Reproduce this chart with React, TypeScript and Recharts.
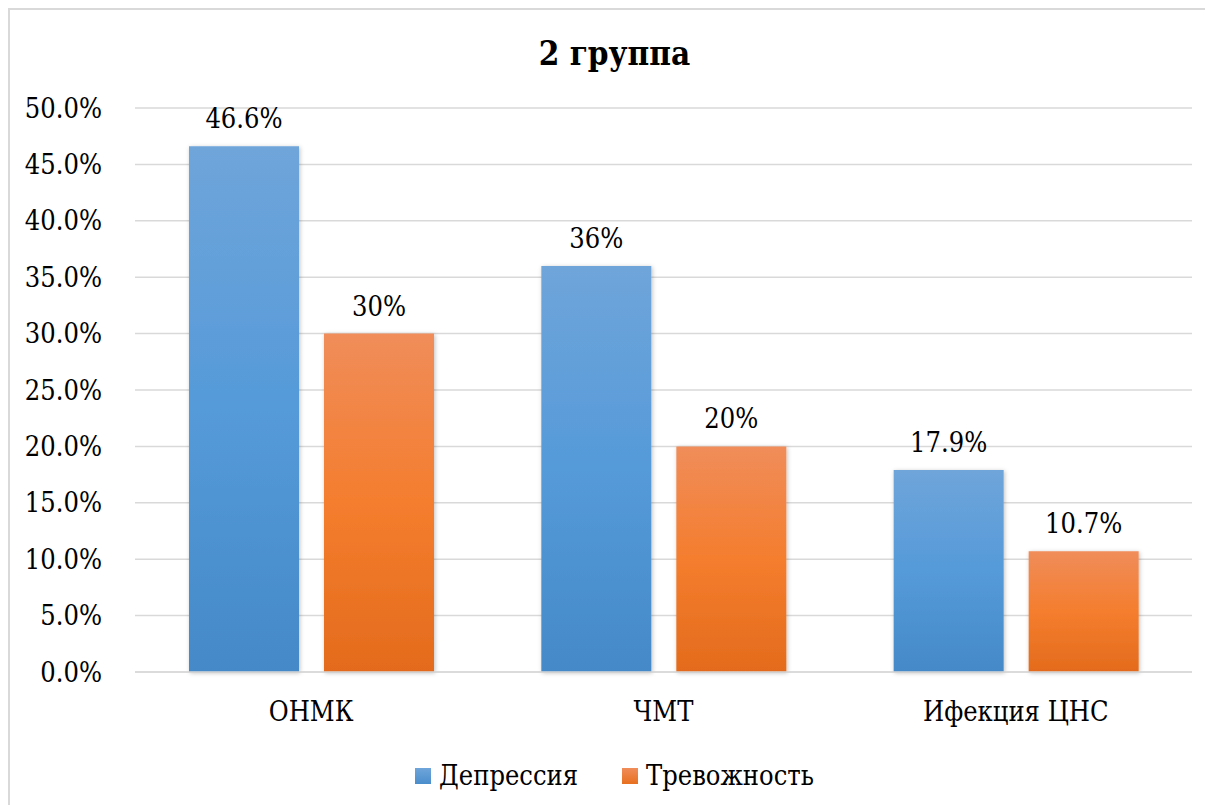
import React from "react";
import {
  BarChart,
  Bar,
  XAxis,
  YAxis,
  CartesianGrid,
  LabelList,
} from "recharts";

const categories = ["ОНМК", "ЧМТ", "Ифекция ЦНС"];
const depressionValues = [46.6, 36, 17.9];
const anxietyValues = [30, 20, 10.7];
const depressionLabels = ["46.6%", "36%", "17.9%"];
const anxietyLabels = ["30%", "20%", "10.7%"];
const yTicks = [0, 5, 10, 15, 20, 25, 30, 35, 40, 45, 50];
const seriesNames = ["Депрессия", "Тревожность"];
const title = "2 группа";

const data = categories.map((c, i) => ({
  name: c,
  dep: depressionValues[i],
  anx: anxietyValues[i],
  depLabel: depressionLabels[i],
  anxLabel: anxietyLabels[i],
}));

const FONT = "'DejaVu Serif Condensed', 'DejaVu Serif', serif";
const FS = 27;

const LegendBlock = () => (
  <div
    style={{
      position: "absolute",
      left: 0,
      top: 753,
      width: 1213,
      display: "flex",
      justifyContent: "center",
      alignItems: "center",
      fontFamily: FONT,
      fontSize: FS,
      color: "#000",
      gap: 44,
      lineHeight: "30px",
    }}
  >
    {seriesNames.map((n, i) => (
      <div key={n} style={{ display: "flex", alignItems: "center" }}>
        <span
          style={{
            display: "inline-block",
            width: 16,
            height: 16,
            marginRight: 8,
            background:
              i === 0
                ? "linear-gradient(#6fa5da, #4a8dcc)"
                : "linear-gradient(#f08d5a, #e8701f)",
          }}
        />
        <span>{n}</span>
      </div>
    ))}
  </div>
);

export default function App() {
  return (
    <div
      style={{
        position: "relative",
        width: 1205,
        height: 797,
        overflow: "hidden",
        background: "#fff",
      }}
    >
      <div
        style={{
          position: "absolute",
          left: 0,
          top: 0,
          width: 1300,
          height: 900,
          borderLeft: "2px solid #d9d9d9",
          borderTop: "2px solid #d9d9d9",
          boxSizing: "border-box",
        }}
      />
      <div
        style={{
          position: "absolute",
          left: 0,
          top: 26,
          width: 1213,
          textAlign: "center",
          fontFamily: FONT,
          fontWeight: "bold",
          fontSize: 33,
          color: "#000",
        }}
      >
        {title}
      </div>
      <div style={{ position: "absolute", left: 0, top: 0 }}>
        <BarChart
          width={1205}
          height={797}
          data={data}
          margin={{ top: 100, right: 21, bottom: 103, left: 0 }}
          barSize={110}
          barGap={25}
        >
          <defs>
            <linearGradient id="gBlue" x1="0" y1="0" x2="0" y2="1">
              <stop offset="0%" stopColor="#6fa5da" />
              <stop offset="50%" stopColor="#559ad9" />
              <stop offset="100%" stopColor="#4589c8" />
            </linearGradient>
            <linearGradient id="gOrange" x1="0" y1="0" x2="0" y2="1">
              <stop offset="0%" stopColor="#f08d5a" />
              <stop offset="50%" stopColor="#f47d2e" />
              <stop offset="100%" stopColor="#e36b1c" />
            </linearGradient>
            <filter id="shadow" x="-10%" y="-10%" width="120%" height="120%">
              <feDropShadow dx="1" dy="1" stdDeviation="2" floodColor="#000" floodOpacity="0.25" />
            </filter>
          </defs>
          <CartesianGrid vertical={false} stroke="#d9d9d9" strokeWidth={1.5} />
          <XAxis
            dataKey="name"
            tickLine={false}
            axisLine={{ stroke: "#d9d9d9", strokeWidth: 1.5 }}
            tick={{ fontFamily: FONT, fontSize: FS, fill: "#000" }}
            tickMargin={24}
          />
          <YAxis
            width={127}
            domain={[0, 50]}
            ticks={yTicks}
            interval={0}
            tickFormatter={(v: number) => v.toFixed(1) + "%"}
            axisLine={false}
            tickLine={false}
            tickMargin={27}
            tick={{ fontFamily: FONT, fontSize: FS, fill: "#000" }}
          />
          <Bar dataKey="dep" name={seriesNames[0]} fill="url(#gBlue)" filter="url(#shadow)" isAnimationActive={false}>
            <LabelList
              dataKey="depLabel"
              position="top"
              offset={18}
              style={{ fontFamily: FONT, fontSize: FS, fill: "#000" }}
            />
          </Bar>
          <Bar dataKey="anx" name={seriesNames[1]} fill="url(#gOrange)" filter="url(#shadow)" isAnimationActive={false}>
            <LabelList
              dataKey="anxLabel"
              position="top"
              offset={18}
              style={{ fontFamily: FONT, fontSize: FS, fill: "#000" }}
            />
          </Bar>
        </BarChart>
      </div>
      <LegendBlock />
    </div>
  );
}
